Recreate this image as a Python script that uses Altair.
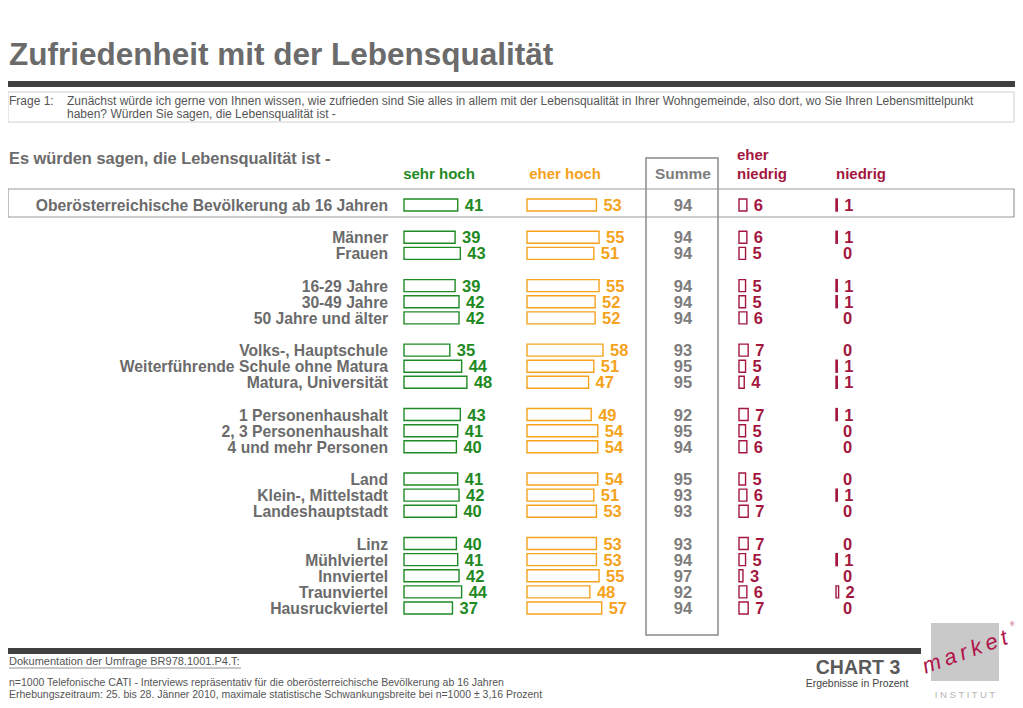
import altair as alt
import pandas as pd

# ---------------- data ----------------
labels = [
    "Oberösterreichische Bevölkerung ab 16 Jahren",
    "Männer", "Frauen",
    "16-29 Jahre", "30-49 Jahre", "50 Jahre und älter",
    "Volks-, Hauptschule", "Weiterführende Schule ohne Matura", "Matura, Universität",
    "1 Personenhaushalt", "2, 3 Personenhaushalt", "4 und mehr Personen",
    "Land", "Klein-, Mittelstadt", "Landeshauptstadt",
    "Linz", "Mühlviertel", "Innviertel", "Traunviertel", "Hausruckviertel",
]
groups = [0, 1, 1, 2, 2, 2, 3, 3, 3, 4, 4, 4, 5, 5, 5, 6, 6, 6, 6, 6]
sehr_hoch = [41, 39, 43, 39, 42, 42, 35, 44, 48, 43, 41, 40, 41, 42, 40, 40, 41, 42, 44, 37]
eher_hoch = [53, 55, 51, 55, 52, 52, 58, 51, 47, 49, 54, 54, 54, 51, 53, 53, 53, 55, 48, 57]
summe = [94, 94, 94, 94, 94, 94, 93, 95, 95, 92, 95, 94, 95, 93, 93, 93, 94, 97, 92, 94]
eher_niedrig = [6, 6, 5, 5, 5, 6, 7, 5, 4, 7, 5, 6, 5, 6, 7, 7, 5, 3, 6, 7]
niedrig = [1, 1, 0, 1, 1, 0, 0, 1, 1, 1, 0, 0, 0, 1, 0, 0, 1, 0, 2, 0]

df = pd.DataFrame({
    "label": labels, "group": groups, "sehr_hoch": sehr_hoch, "eher_hoch": eher_hoch,
    "summe": summe, "eher_niedrig": eher_niedrig, "niedrig": niedrig,
})
df["slot"] = df.index + df["group"]
one = pd.DataFrame({"k": [0]})

# ---------------- style ----------------
W, H = 1007, 692
GREEN = "#1f8a24"
ORANGE = "#f5a21c"
CRIMSON = "#a3173f"
GRAY = "#6b6b6b"
SUMGRAY = "#7d7d7d"
FONT = "Liberation Sans"
PX = 1.31  # pixels per percent

yenc = alt.Y("slot:Q", scale=alt.Scale(domain=[0, 25], range=[197, 600], zero=False, nice=False, padding=0),
             axis=None)


def column(field, start, color, bar_data=None):
    sc = alt.Scale(domain=[0, 100], range=[start, start + 100 * PX], zero=False, nice=False, padding=0)
    b = alt.Chart(df if bar_data is None else bar_data).mark_bar(
        orient="horizontal", size=12, fill="white", stroke=color, strokeWidth=1.4
    ).encode(x=alt.X(f"{field}:Q", scale=sc, axis=None), x2=alt.datum(0), y=yenc)
    t = alt.Chart(df).mark_text(
        align="left", baseline="middle", dx=7, dy=1, fontSize=16.5, fontWeight="bold",
        color=color, font=FONT
    ).encode(x=alt.X(f"{field}:Q", scale=sc, axis=None), y=yenc, text=f"{field}:Q")
    return [b, t]


def txt(s, x, y, size, color, weight="normal", align="left", baseline="middle", font=FONT, angle=0, style="normal"):
    return alt.Chart(one).mark_text(
        text=s, fontSize=size, color=color, fontWeight=weight, align=align, baseline=baseline,
        font=font, angle=angle, fontStyle=style
    ).encode(x=alt.value(x), y=alt.value(y))


def box(x0, x1, y0, y1, fill=None, stroke=None, sw=1):
    kw = {}
    if fill is not None:
        kw["fill"] = fill
    else:
        kw["fillOpacity"] = 0
    if stroke is not None:
        kw["stroke"] = stroke
        kw["strokeWidth"] = sw
    return alt.Chart(one).mark_rect(**kw).encode(
        x=alt.value(x0), x2=alt.value(x1), y=alt.value(y0), y2=alt.value(y1))


layers = []
# title & question
layers.append(txt("Zufriedenheit mit der Lebensqualität", 1, 57, 31.5, GRAY, "bold", baseline="alphabetic"))
layers.append(box(0, 1007, 73, 79, fill="#404040"))
layers.append(box(0, 1006, 84, 114, stroke="#d0d0d0", sw=1))
layers.append(txt("Frage 1:", 1, 93, 12, "#555555"))
layers.append(txt("Zunächst würde ich gerne von Ihnen wissen, wie zufrieden sind Sie alles in allem mit der Lebensqualität in Ihrer Wohngemeinde, also dort, wo Sie Ihren Lebensmittelpunkt", 59, 93, 12, "#555555"))
layers.append(txt("haben? Würden Sie sagen, die Lebensqualität ist -", 59, 106, 12, "#555555"))

# column headers
layers.append(txt("Es würden sagen, die Lebensqualität ist -", 1, 151, 16.4, GRAY, "bold"))
layers.append(txt("sehr hoch", 431, 166, 15, GREEN, "bold", align="center"))
layers.append(txt("eher hoch", 557, 166, 15, ORANGE, "bold", align="center"))
layers.append(txt("Summe", 675, 166, 15.5, SUMGRAY, "bold", align="center"))
layers.append(txt("eher", 729, 147, 15, CRIMSON, "bold"))
layers.append(txt("niedrig", 729, 166, 15, CRIMSON, "bold"))
layers.append(txt("niedrig", 828, 166, 15, CRIMSON, "bold"))

# frames
layers.append(box(0, 1006, 181, 209, stroke="#9a9a9a", sw=1.2))
layers.append(box(638, 710, 150, 627, stroke="#8a8a8a", sw=1.5))

# row labels
layers.append(alt.Chart(df).mark_text(
    align="right", baseline="middle", fontSize=15.7, fontWeight="bold", color=GRAY, font=FONT, dy=1
).encode(x=alt.value(380), y=yenc, text="label:N"))

# data columns
layers += column("sehr_hoch", 396, GREEN)
layers += column("eher_hoch", 519, ORANGE)
layers.append(alt.Chart(df).mark_text(
    align="center", baseline="middle", fontSize=16.5, fontWeight="bold", color=SUMGRAY, font=FONT, dy=1
).encode(x=alt.value(675), y=yenc, text="summe:Q"))
layers += column("eher_niedrig", 731, CRIMSON)
layers += column("niedrig", 828, CRIMSON, bar_data=df[df["niedrig"] > 0])

# footer
layers.append(box(0, 913, 640, 646, fill="#404040"))
layers.append(txt("Dokumentation der Umfrage BR978.1001.P4.T:", 1, 654, 11, "#555555"))
layers.append(alt.Chart(one).mark_rule(color="#777777", strokeWidth=0.8).encode(
    x=alt.value(1), x2=alt.value(233), y=alt.value(660)))
layers.append(txt("n=1000 Telefonische CATI - Interviews repräsentativ für die oberösterreichische Bevölkerung ab 16 Jahren", 1, 675, 10.5, "#555555"))
layers.append(txt("Erhebungszeitraum: 25. bis 28. Jänner 2010, maximale statistische Schwankungsbreite bei n=1000 ± 3,16 Prozent", 1, 687, 10.5, "#555555"))
layers.append(txt("CHART 3", 850, 660, 19.5, "#5a5a5a", "bold", align="center"))
layers.append(txt("Ergebnisse in Prozent", 849, 676, 10.5, "#444444", align="center"))

# logo
layers.append(box(923, 991, 615, 673, fill="#c9c9c9"))
layers.append(txt("m\u2009a\u2009r\u2009k\u2009e\u2009t", 957, 644, 22, "#b0144a", angle=340, align="center", style="italic"))
layers.append(txt("®", 1002, 616, 6, "#b0144a"))
layers.append(txt("I N S T I T U T", 957, 687, 9.5, "#b5b5b5", align="center"))

chart = alt.layer(*layers).resolve_scale(x="independent").properties(
    width=W, height=H, autosize=alt.AutoSizeParams(type="none"), padding=0
).configure_view(stroke=None)

chart.save("out.html", embed_options={"renderer": "svg", "actions": False})
